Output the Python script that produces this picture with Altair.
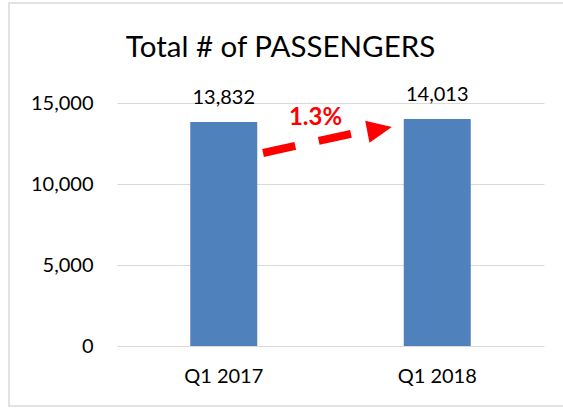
import altair as alt
import pandas as pd

# ---- data ----
quarters = ["Q1 2017", "Q1 2018"]
passengers = [13832, 14013]
y_ticks = [0, 5000, 10000, 15000]

# annotation (growth arrow) in data units: x on a 0..2 band-fraction scale
change_label = ["1.3%"]
label_x = [0.93]
label_y = [14070]
arrow_x = [0.684, 1.096]
arrow_y = [11914, 13099]
head_x = [1.23]
head_y = [13370]

bars_df = pd.DataFrame({"quarter": quarters, "passengers": passengers})
arrow_df = pd.DataFrame({"x": arrow_x, "y": arrow_y})
head_df = pd.DataFrame({"x": head_x, "y": head_y})
lab_df = pd.DataFrame({"x": label_x, "y": label_y, "t": change_label})

FONT = "Lato"
BLUE = "#4F81BD"
RED = "#FF0000"
GRID = "#D9D9D9"

yscale = alt.Scale(domain=[0, 15000], nice=False, zero=True)
yaxis = alt.Axis(title=None, values=y_ticks, format=",.0f", labelFontSize=20,
                 labelFont=FONT, labelColor="#000000", domain=False,
                 ticks=False, grid=True, gridColor=GRID, gridWidth=1,
                 labelPadding=24)

xband = alt.X(
    "quarter:N",
    sort=quarters,
    scale=alt.Scale(paddingInner=0, paddingOuter=0),
    axis=alt.Axis(title=None, labelAngle=0, labelFontSize=20, labelFont=FONT,
                  labelColor="#000000", domain=False, ticks=False, grid=False,
                  labelPadding=20),
)

frame = alt.Chart(bars_df.head(1)).mark_rect(fill=None, stroke=GRID, strokeWidth=1.5).encode(
    x=alt.value(-108), x2=alt.value(460), y=alt.value(-100), y2=alt.value(303)
)

bars = alt.Chart(bars_df).mark_bar(size=67, color=BLUE).encode(
    x=xband,
    y=alt.Y("passengers:Q", scale=yscale, axis=yaxis),
)

values = alt.Chart(bars_df).mark_text(
    font=FONT, fontSize=20, color="#000000", baseline="alphabetic", dy=-18
).encode(x=xband, y=alt.Y("passengers:Q", scale=yscale, axis=yaxis),
         text=alt.Text("passengers:Q", format=","))

base = alt.layer(frame, bars, values)

xq = alt.X("x:Q", scale=alt.Scale(domain=[0, 2]), axis=None)
yq = alt.Y("y:Q", scale=yscale, axis=yaxis)

arrow = alt.Chart(arrow_df).mark_line(
    color=RED, strokeWidth=8, strokeDash=[33, 24], strokeCap="butt"
).encode(x=xq, y=yq)

head = alt.Chart(head_df).mark_point(
    shape="M-1,-0.9L1,0L-1,0.9Z", size=625, filled=True, color=RED, opacity=1, angle=349
).encode(x=xq, y=yq)

label = alt.Chart(lab_df).mark_text(
    font=FONT, fontSize=24, fontWeight="bold", color=RED, baseline="middle"
).encode(x=xq, y=yq, text="t:N")

annot = alt.layer(arrow, head, label)

chart = alt.layer(base, annot).resolve_scale(
    x="independent"
).properties(
    width=427,
    height=243,
    padding={"left": 117, "top": 103, "right": 19, "bottom": 62},
    autosize=alt.AutoSizeParams(type="none"),
    background="white",
    title=alt.TitleParams(
        "Total # of PASSENGERS", font=FONT, fontSize=29.5, fontWeight="normal",
        color="#000000", anchor="middle", frame="group", dx=-50, offset=-84,
        baseline="alphabetic",
    ),
).configure_view(stroke=None)

chart.save("out.html", embed_options={"renderer": "svg", "actions": False})
